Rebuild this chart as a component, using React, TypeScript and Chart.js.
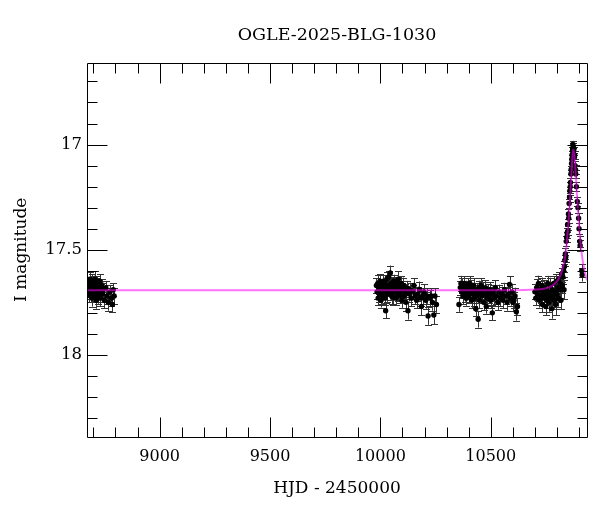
import React, { useEffect, useRef } from "react";
import { Chart, registerables } from "chart.js";

Chart.register(...registerables);

const TITLE = "OGLE-2025-BLG-1030";
const X_LABEL = "HJD - 2450000";
const Y_LABEL = "I magnitude";
const X_TICKS = [9000, 9500, 10000, 10500];
const Y_TICKS = [17, 17.5, 18];
const X_MIN = 8671;
const X_MAX = 10936;
const Y_MIN = 16.61;
const Y_MAX = 18.39;
const FONT = "'DejaVu Serif', serif";

// Season 2019
const hjdS1 = [8676, 8679, 8681, 8683, 8685, 8687, 8689, 8691, 8693, 8695, 8697, 8699, 8701, 8703, 8705, 8707, 8709, 8711, 8713, 8715, 8717, 8720, 8722, 8725, 8728, 8731, 8734, 8737, 8741, 8745, 8750, 8756, 8762, 8768, 8775, 8781, 8786, 8790, 8794];
const magS1 = [17.68, 17.66, 17.71, 17.64, 17.69, 17.72, 17.67, 17.70, 17.65, 17.73, 17.68, 17.70, 17.66, 17.72, 17.69, 17.64, 17.71, 17.67, 17.74, 17.69, 17.66, 17.72, 17.70, 17.68, 17.65, 17.73, 17.70, 17.67, 17.71, 17.69, 17.74, 17.68, 17.72, 17.75, 17.70, 17.73, 17.76, 17.69, 17.72];
const errS1 = [0.035, 0.03, 0.04, 0.032, 0.036, 0.03, 0.038, 0.033, 0.035, 0.04, 0.031, 0.034, 0.037, 0.03, 0.036, 0.039, 0.033, 0.035, 0.04, 0.032, 0.034, 0.037, 0.031, 0.036, 0.033, 0.038, 0.035, 0.03, 0.037, 0.034, 0.039, 0.032, 0.036, 0.04, 0.033, 0.035, 0.038, 0.031, 0.036];

// Season 2023
const hjdS2 = [9982, 9985, 9988, 9990, 9993, 9996, 9998, 10001, 10003, 10006, 10008, 10011, 10013, 10016, 10019, 10021, 10024, 10026, 10029, 10031, 10034, 10037, 10040, 10043, 10045, 10048, 10051, 10054, 10057, 10060, 10063, 10066, 10069, 10072, 10075, 10078, 10081, 10084, 10087, 10090, 10094, 10097, 10100, 10104, 10108, 10112, 10116, 10120, 10125, 10130, 10135, 10140, 10146, 10152, 10158, 10164, 10170, 10177, 10183, 10186, 10192, 10198, 10205, 10210, 10216, 10224, 10230, 10236, 10242, 10247, 10254];
const magS2 = [17.67, 17.70, 17.66, 17.73, 17.68, 17.71, 17.65, 17.69, 17.74, 17.67, 17.72, 17.68, 17.65, 17.70, 17.66, 17.73, 17.79, 17.69, 17.64, 17.71, 17.67, 17.63, 17.68, 17.70, 17.61, 17.66, 17.72, 17.68, 17.725, 17.65, 17.70, 17.67, 17.73, 17.69, 17.66, 17.71, 17.64, 17.68, 17.72, 17.70, 17.66, 17.74, 17.69, 17.67, 17.72, 17.70, 17.75, 17.68, 17.79, 17.71, 17.69, 17.73, 17.70, 17.67, 17.72, 17.74, 17.71, 17.69, 17.73, 17.77, 17.72, 17.70, 17.74, 17.72, 17.815, 17.73, 17.72, 17.75, 17.81, 17.72, 17.76];
const errS2 = [0.035, 0.032, 0.038, 0.034, 0.03, 0.036, 0.033, 0.04, 0.035, 0.031, 0.037, 0.034, 0.032, 0.036, 0.039, 0.033, 0.035, 0.031, 0.034, 0.038, 0.036, 0.03, 0.033, 0.037, 0.035, 0.032, 0.039, 0.034, 0.036, 0.031, 0.035, 0.038, 0.033, 0.036, 0.03, 0.034, 0.037, 0.032, 0.035, 0.039, 0.033, 0.036, 0.031, 0.038, 0.034, 0.035, 0.04, 0.032, 0.042, 0.036, 0.034, 0.038, 0.033, 0.036, 0.04, 0.037, 0.035, 0.039, 0.036, 0.041, 0.038, 0.035, 0.04, 0.037, 0.042, 0.039, 0.036, 0.04, 0.043, 0.038, 0.04];

// Season 2024
const hjdS3 = [10356, 10362, 10365, 10368, 10371, 10374, 10377, 10380, 10383, 10386, 10389, 10392, 10395, 10398, 10401, 10404, 10407, 10410, 10413, 10416, 10419, 10422, 10425, 10428, 10432, 10435, 10438, 10441, 10443, 10446, 10449, 10452, 10456, 10460, 10464, 10468, 10472, 10476, 10480, 10484, 10488, 10492, 10496, 10500, 10504, 10507, 10511, 10516, 10521, 10526, 10532, 10538, 10544, 10550, 10556, 10562, 10568, 10574, 10580, 10585, 10590, 10596, 10600, 10605, 10610, 10616, 10621];
const magS3 = [17.76, 17.68, 17.66, 17.70, 17.67, 17.72, 17.69, 17.66, 17.71, 17.68, 17.73, 17.70, 17.67, 17.69, 17.72, 17.66, 17.70, 17.68, 17.74, 17.69, 17.71, 17.67, 17.73, 17.70, 17.78, 17.72, 17.69, 17.71, 17.83, 17.68, 17.74, 17.70, 17.67, 17.72, 17.69, 17.75, 17.71, 17.68, 17.77, 17.73, 17.70, 17.72, 17.69, 17.74, 17.71, 17.80, 17.70, 17.73, 17.68, 17.72, 17.75, 17.70, 17.73, 17.71, 17.74, 17.69, 17.72, 17.75, 17.71, 17.665, 17.73, 17.70, 17.75, 17.74, 17.72, 17.795, 17.77];
const errS3 = [0.035, 0.033, 0.036, 0.031, 0.034, 0.038, 0.032, 0.035, 0.037, 0.033, 0.036, 0.031, 0.034, 0.039, 0.033, 0.035, 0.032, 0.036, 0.038, 0.034, 0.031, 0.035, 0.037, 0.033, 0.036, 0.034, 0.032, 0.035, 0.04, 0.033, 0.037, 0.034, 0.036, 0.031, 0.035, 0.038, 0.033, 0.036, 0.034, 0.037, 0.035, 0.032, 0.036, 0.039, 0.034, 0.036, 0.033, 0.037, 0.035, 0.038, 0.036, 0.034, 0.039, 0.035, 0.037, 0.033, 0.036, 0.04, 0.035, 0.038, 0.036, 0.039, 0.041, 0.037, 0.04, 0.042, 0.039];

// Season 2025 (event)
const hjdS4 = [10700, 10704, 10708, 10712, 10716, 10720, 10724, 10728, 10731, 10734, 10737, 10740, 10743, 10746, 10749, 10752, 10755, 10758, 10761, 10764, 10767, 10770, 10773, 10776, 10779, 10782, 10785, 10788, 10791, 10794, 10797, 10800, 10803, 10806, 10809, 10812, 10815, 10818, 10821, 10824, 10827, 10830, 10832, 10834, 10836, 10838, 10840, 10842, 10844, 10846, 10848, 10850, 10852, 10853, 10855, 10857, 10858, 10860, 10861, 10863, 10864, 10866, 10867, 10868, 10870, 10871, 10872, 10874, 10875, 10877, 10879, 10880, 10882, 10884, 10885, 10888, 10892, 10895, 10898, 10900, 10903, 10905, 10912, 10914];
const magS4 = [17.70, 17.73, 17.68, 17.71, 17.66, 17.74, 17.69, 17.72, 17.67, 17.76, 17.70, 17.73, 17.68, 17.71, 17.77, 17.69, 17.74, 17.66, 17.72, 17.75, 17.70, 17.67, 17.73, 17.78, 17.69, 17.72, 17.66, 17.74, 17.70, 17.76, 17.65, 17.71, 17.68, 17.73, 17.64, 17.69, 17.66, 17.74, 17.62, 17.67, 17.63, 17.60, 17.69, 17.58, 17.55, 17.52, 17.535, 17.46, 17.44, 17.42, 17.38, 17.41, 17.33, 17.35, 17.28, 17.25, 17.22, 17.20, 17.18, 17.14, 17.12, 17.09, 17.07, 17.05, 17.03, 17.02, 17.00, 17.01, 17.03, 17.02, 17.06, 17.05, 17.10, 17.12, 17.14, 17.20, 17.27, 17.30, 17.35, 17.40, 17.46, 17.48, 17.60, 17.62];
const errS4 = [0.036, 0.034, 0.039, 0.033, 0.037, 0.035, 0.04, 0.034, 0.038, 0.036, 0.033, 0.037, 0.035, 0.039, 0.042, 0.034, 0.038, 0.036, 0.04, 0.045, 0.035, 0.037, 0.034, 0.048, 0.036, 0.039, 0.033, 0.04, 0.035, 0.05, 0.034, 0.037, 0.036, 0.041, 0.033, 0.038, 0.035, 0.042, 0.032, 0.036, 0.031, 0.03, 0.045, 0.028, 0.027, 0.026, 0.025, 0.024, 0.025, 0.023, 0.024, 0.022, 0.023, 0.022, 0.021, 0.022, 0.02, 0.021, 0.02, 0.019, 0.02, 0.019, 0.018, 0.019, 0.018, 0.019, 0.018, 0.019, 0.018, 0.019, 0.02, 0.019, 0.02, 0.021, 0.02, 0.022, 0.023, 0.024, 0.025, 0.026, 0.027, 0.028, 0.03, 0.031];

// Model curve
const modelHjd = [8671, 10600, 10700, 10740, 10770, 10790, 10805, 10818, 10828, 10836, 10843, 10849, 10855, 10860, 10865, 10869, 10873, 10877, 10881, 10886, 10892, 10898, 10905, 10913, 10922, 10936];
const modelMag = [17.693, 17.692, 17.689, 17.685, 17.676, 17.662, 17.643, 17.615, 17.578, 17.54, 17.48, 17.41, 17.33, 17.245, 17.15, 17.075, 17.025, 17.035, 17.075, 17.155, 17.265, 17.36, 17.45, 17.525, 17.585, 17.645];

type Pt = { x: number; y: number; e: number };

function season(h: number[], m: number[], e: number[]): Pt[] {
  const n = Math.min(h.length, m.length, e.length);
  const out: Pt[] = [];
  for (let i = 0; i < n; i++) out.push({ x: h[i], y: m[i], e: e[i] });
  return out;
}

const errorBarPlugin = {
  id: "errorBars",
  beforeDatasetsDraw(chart: any) {
    const ds = chart.data.datasets[1];
    if (!ds) return;
    const xs = chart.scales.x;
    const ys = chart.scales.y;
    const a = chart.chartArea;
    const ctx = chart.ctx;
    ctx.save();
    ctx.beginPath();
    ctx.rect(a.left, a.top, a.right - a.left, a.bottom - a.top);
    ctx.clip();
    ctx.strokeStyle = "#333";
    ctx.lineWidth = 1;
    const cap = 3.5;
    for (const p of ds.data as Pt[]) {
      const px = Math.round(xs.getPixelForValue(p.x)) + 0.5;
      const y1 = ys.getPixelForValue(p.y - p.e);
      const y2 = ys.getPixelForValue(p.y + p.e);
      ctx.beginPath();
      ctx.moveTo(px, y1);
      ctx.lineTo(px, y2);
      ctx.moveTo(px - cap, Math.round(y1) + 0.5);
      ctx.lineTo(px + cap, Math.round(y1) + 0.5);
      ctx.moveTo(px - cap, Math.round(y2) + 0.5);
      ctx.lineTo(px + cap, Math.round(y2) + 0.5);
      ctx.stroke();
    }
    ctx.restore();
  },
};

const framePlugin = {
  id: "frameTicks",
  afterDraw(chart: any) {
    const xs = chart.scales.x;
    const ys = chart.scales.y;
    const a = chart.chartArea;
    const ctx = chart.ctx;
    ctx.save();
    ctx.strokeStyle = "#000";
    ctx.lineWidth = 1;
    const L = Math.round(a.left) + 0.5;
    const R = Math.round(a.right) + 0.5;
    const T = Math.round(a.top) + 0.5;
    const B = Math.round(a.bottom) + 0.5;
    ctx.beginPath();
    ctx.rect(L, T, R - L, B - T);
    ctx.stroke();
    const major = 20;
    const minor = 10;
    ctx.beginPath();
    for (let v = 8700; v <= X_MAX; v += 100) {
      const px = Math.round(xs.getPixelForValue(v)) + 0.5;
      const len = v % 500 === 0 ? major : minor;
      ctx.moveTo(px, B);
      ctx.lineTo(px, B - len);
      ctx.moveTo(px, T);
      ctx.lineTo(px, T + len);
    }
    for (let k = 167; k <= 183; k++) {
      const v = k / 10;
      const py = Math.round(ys.getPixelForValue(v)) + 0.5;
      const len = k % 5 === 0 ? major : minor;
      ctx.moveTo(L, py);
      ctx.lineTo(L + len, py);
      ctx.moveTo(R, py);
      ctx.lineTo(R - len, py);
    }
    ctx.stroke();
    ctx.restore();
  },
};

export default function App() {
  const ref = useRef<HTMLCanvasElement | null>(null);
  useEffect(() => {
    if (!ref.current) return;
    const points = [
      ...season(hjdS1, magS1, errS1),
      ...season(hjdS2, magS2, errS2),
      ...season(hjdS3, magS3, errS3),
      ...season(hjdS4, magS4, errS4),
    ];
    const model = modelHjd.map((h, i) => ({ x: h, y: modelMag[i] }));
    const chart = new Chart(ref.current, {
      type: "scatter",
      data: {
        datasets: [
          {
            type: "line",
            label: "model",
            data: model,
            borderColor: "rgba(255,0,255,0.55)",
            borderWidth: 2,
            pointRadius: 0,
            fill: false,
            cubicInterpolationMode: "monotone",
            order: 0,
          } as any,
          {
            label: "OGLE",
            data: points,
            backgroundColor: "#000",
            borderWidth: 0,
            pointRadius: 2.7,
            order: 1,
          },
        ],
      },
      options: {
        responsive: false,
        animation: false,
        layout: { padding: { left: 0, right: 13, top: 0, bottom: 0 } },
        plugins: {
          legend: { display: false },
          tooltip: { enabled: false },
          title: {
            display: true,
            fullSize: false,
            text: TITLE,
            color: "#000",
            font: { family: FONT, size: 17.5, weight: "normal" },
            padding: { top: 25, bottom: 16.5 },
          },
        },
        scales: {
          x: {
            type: "linear",
            min: X_MIN,
            max: X_MAX,
            grid: { display: false, drawTicks: false },
            border: { display: false },
            afterBuildTicks: (s: any) => {
              s.ticks = X_TICKS.map((v) => ({ value: v }));
            },
            afterFit: (s: any) => {
              s.height = 75;
            },
            ticks: {
              color: "#000",
              padding: 10,
              maxRotation: 0,
              autoSkip: false,
              font: { family: FONT, size: 16 },
              callback: (v: any) => String(v),
            },
            title: {
              display: true,
              text: X_LABEL,
              color: "#000",
              font: { family: FONT, size: 17 },
              padding: { top: 0, bottom: 13 },
            },
          },
          y: {
            type: "linear",
            reverse: true,
            min: Y_MIN,
            max: Y_MAX,
            grid: { display: false, drawTicks: false },
            border: { display: false },
            afterBuildTicks: (s: any) => {
              s.ticks = Y_TICKS.map((v) => ({ value: v }));
            },
            afterFit: (s: any) => {
              s.width = 87;
            },
            ticks: {
              color: "#000",
              padding: 5,
              autoSkip: false,
              font: { family: FONT, size: 16.5 },
              callback: (v: any) => String(v),
            },
            title: {
              display: true,
              text: Y_LABEL,
              color: "#000",
              font: { family: FONT, size: 17 },
              padding: { top: 11, bottom: 0 },
            },
          },
        },
      },
      plugins: [errorBarPlugin, framePlugin],
    });
    return () => chart.destroy();
  }, []);
  return (
    <div style={{ position: "absolute", left: 0, top: 0, width: 600, height: 512, background: "#fff" }}>
      <canvas ref={ref} width={600} height={512} style={{ display: "block", width: 600, height: 512 }} />
    </div>
  );
}
